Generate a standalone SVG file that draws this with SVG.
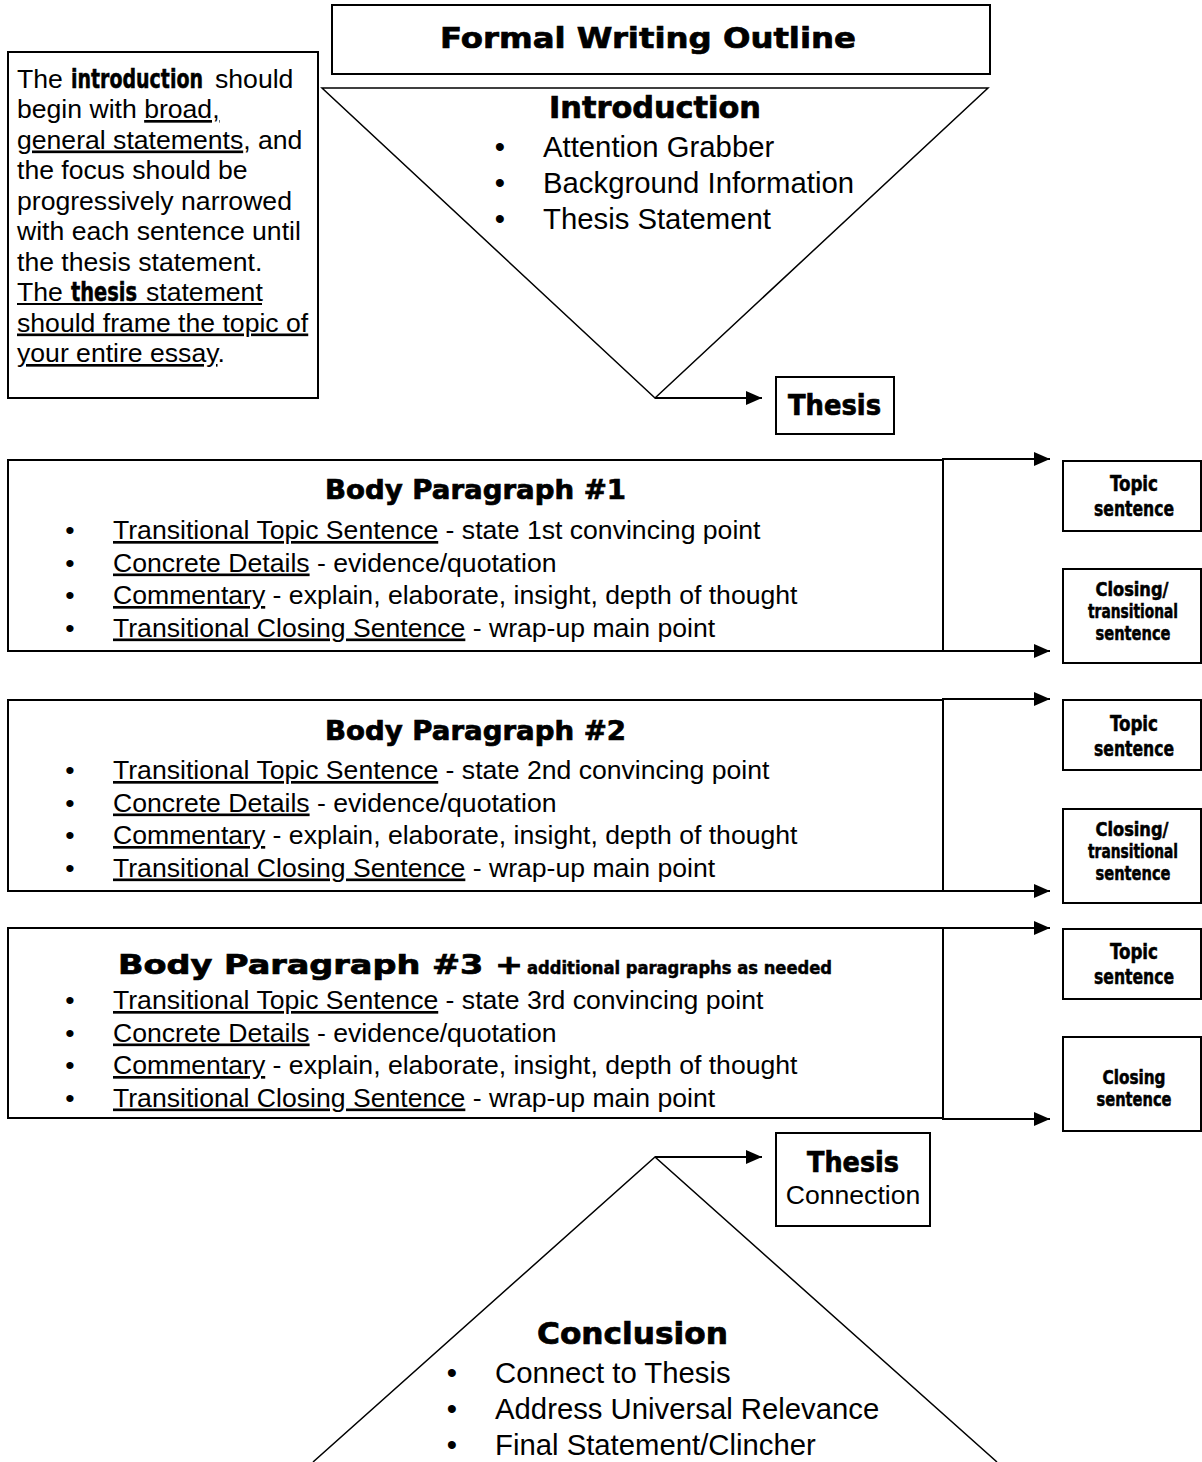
<svg xmlns="http://www.w3.org/2000/svg" width="1202" height="1462" viewBox="0 0 1202 1462">
<style>
.box{fill:#fff;stroke:#000;stroke-width:2}
.tri{fill:none;stroke:#000;stroke-width:1.5}
.ln{fill:none;stroke:#000;stroke-width:2}
.t{font-family:"Liberation Sans",Arial,sans-serif;font-size:26.6px;fill:#000}
.tb{font-family:"Liberation Sans",Arial,sans-serif;font-size:29.3px;fill:#000}
.h{font-family:"DejaVu Sans","Liberation Sans",sans-serif;font-weight:bold;fill:#000;stroke:#000;stroke-width:0.7px}
.c{font-family:"DejaVu Sans Condensed","DejaVu Sans","Liberation Sans",sans-serif;font-weight:bold;fill:#000;stroke:#000;stroke-width:0.5px}
.u{text-decoration:underline}
.mid{text-anchor:middle}
</style>
<defs>
<marker id="arr" markerUnits="userSpaceOnUse" markerWidth="16" markerHeight="14" refX="16" refY="7" orient="auto">
<path d="M0,0 L16,7 L0,14 z" fill="#000"/>
</marker>
</defs>
<rect width="1202" height="1462" fill="#fff"/>

<g id="title">
<rect class="box" x="332" y="5" width="658" height="69"/>
<text class="h" x="440" y="48" font-size="29" textLength="416" lengthAdjust="spacingAndGlyphs">Formal Writing Outline</text>
</g>

<g id="intro-note">
<rect class="box" x="8" y="52" width="310" height="346"/>
<text class="t" y="87.5"><tspan x="17">The</tspan><tspan x="71" class="c" font-size="27" textLength="132" lengthAdjust="spacingAndGlyphs">introduction</tspan><tspan x="215">should</tspan></text>
<text class="t" x="17" y="118">begin with <tspan class="u">broad,</tspan></text>
<text class="t" x="17" y="148.5"><tspan class="u">general statements</tspan>, and</text>
<text class="t" x="17" y="179">the focus should be</text>
<text class="t" x="17" y="209.5">progressively narrowed</text>
<text class="t" x="17" y="240">with each sentence until</text>
<text class="t" x="17" y="270.5">the thesis statement.</text>
<text class="t" y="301"><tspan x="17">The</tspan><tspan x="71" class="c" font-size="27" textLength="66" lengthAdjust="spacingAndGlyphs">thesis</tspan><tspan x="146">statement</tspan></text>
<line x1="17" y1="304" x2="262" y2="304" stroke="#000" stroke-width="1.8"/>
<text class="t u" x="17" y="331.5">should frame the topic of</text>
<text class="t" x="17" y="362"><tspan class="u">your entire essay</tspan>.</text>
</g>

<g id="introduction">
<polygon class="tri" points="322,88 988,88 655,398"/>
<text class="h" x="549" y="118" font-size="30" textLength="212" lengthAdjust="spacingAndGlyphs">Introduction</text>
<text class="tb mid" x="500" y="157">•</text><text class="tb" x="543" y="157">Attention Grabber</text>
<text class="tb mid" x="500" y="193">•</text><text class="tb" x="543" y="193">Background Information</text>
<text class="tb mid" x="500" y="229">•</text><text class="tb" x="543" y="229">Thesis Statement</text>
</g>

<g id="thesis">
<rect class="box" x="776" y="377" width="118" height="57"/>
<text class="h" x="788" y="415" font-size="28" textLength="93" lengthAdjust="spacingAndGlyphs">Thesis</text>
</g>

<g id="body1">
<rect class="box" x="8" y="460" width="935" height="191"/>
<text class="h" x="325" y="499" font-size="26" textLength="301" lengthAdjust="spacingAndGlyphs">Body Paragraph #1</text>
<text class="t mid" x="70" y="539">•</text><text class="t" x="113" y="539"><tspan class="u">Transitional Topic Sentence</tspan> - state 1st convincing point</text>
<text class="t mid" x="70" y="571.5">•</text><text class="t" x="113" y="571.5"><tspan class="u">Concrete Details</tspan> - evidence/quotation</text>
<text class="t mid" x="70" y="604">•</text><text class="t" x="113" y="604"><tspan class="u">Commentary</tspan> - explain, elaborate, insight, depth of thought</text>
<text class="t mid" x="70" y="636.5">•</text><text class="t" x="113" y="636.5"><tspan class="u">Transitional Closing Sentence</tspan> - wrap-up main point</text>
</g>

<g id="body2">
<rect class="box" x="8" y="700" width="935" height="191"/>
<text class="h" x="325" y="740" font-size="26" textLength="301" lengthAdjust="spacingAndGlyphs">Body Paragraph #2</text>
<text class="t mid" x="70" y="779">•</text><text class="t" x="113" y="779"><tspan class="u">Transitional Topic Sentence</tspan> - state 2nd convincing point</text>
<text class="t mid" x="70" y="811.5">•</text><text class="t" x="113" y="811.5"><tspan class="u">Concrete Details</tspan> - evidence/quotation</text>
<text class="t mid" x="70" y="844">•</text><text class="t" x="113" y="844"><tspan class="u">Commentary</tspan> - explain, elaborate, insight, depth of thought</text>
<text class="t mid" x="70" y="876.5">•</text><text class="t" x="113" y="876.5"><tspan class="u">Transitional Closing Sentence</tspan> - wrap-up main point</text>
</g>

<g id="body3">
<rect class="box" x="8" y="928" width="935" height="190"/>
<text class="h" x="118" y="974" font-size="26" textLength="405" lengthAdjust="spacingAndGlyphs">Body Paragraph #3 +</text>
<text class="h" x="527" y="974" font-size="18" textLength="305" lengthAdjust="spacingAndGlyphs" style="stroke-width:0.5px">additional paragraphs as needed</text>
<text class="t mid" x="70" y="1009">•</text><text class="t" x="113" y="1009"><tspan class="u">Transitional Topic Sentence</tspan> - state 3rd convincing point</text>
<text class="t mid" x="70" y="1041.5">•</text><text class="t" x="113" y="1041.5"><tspan class="u">Concrete Details</tspan> - evidence/quotation</text>
<text class="t mid" x="70" y="1074">•</text><text class="t" x="113" y="1074"><tspan class="u">Commentary</tspan> - explain, elaborate, insight, depth of thought</text>
<text class="t mid" x="70" y="1106.5">•</text><text class="t" x="113" y="1106.5"><tspan class="u">Transitional Closing Sentence</tspan> - wrap-up main point</text>
</g>

<g id="topic1">
<rect class="box" x="1063" y="461" width="138" height="70"/>
<text class="c mid" x="1134" y="491" font-size="21" textLength="48" lengthAdjust="spacingAndGlyphs">Topic</text>
<text class="c mid" x="1134" y="516" font-size="21" textLength="80" lengthAdjust="spacingAndGlyphs">sentence</text>
</g>
<g id="closing1">
<rect class="box" x="1063" y="569" width="138" height="94"/>
<text class="c mid" x="1132" y="596" font-size="19" textLength="73" lengthAdjust="spacingAndGlyphs">Closing/</text>
<text class="c mid" x="1133" y="618" font-size="19" textLength="90" lengthAdjust="spacingAndGlyphs">transitional</text>
<text class="c mid" x="1133" y="640" font-size="19" textLength="75" lengthAdjust="spacingAndGlyphs">sentence</text>
</g>
<g id="topic2">
<rect class="box" x="1063" y="700" width="138" height="70"/>
<text class="c mid" x="1134" y="731" font-size="21" textLength="48" lengthAdjust="spacingAndGlyphs">Topic</text>
<text class="c mid" x="1134" y="756" font-size="21" textLength="80" lengthAdjust="spacingAndGlyphs">sentence</text>
</g>
<g id="closing2">
<rect class="box" x="1063" y="809" width="138" height="94"/>
<text class="c mid" x="1132" y="836" font-size="19" textLength="73" lengthAdjust="spacingAndGlyphs">Closing/</text>
<text class="c mid" x="1133" y="858" font-size="19" textLength="90" lengthAdjust="spacingAndGlyphs">transitional</text>
<text class="c mid" x="1133" y="880" font-size="19" textLength="75" lengthAdjust="spacingAndGlyphs">sentence</text>
</g>
<g id="topic3">
<rect class="box" x="1063" y="929" width="138" height="70"/>
<text class="c mid" x="1134" y="959" font-size="21" textLength="48" lengthAdjust="spacingAndGlyphs">Topic</text>
<text class="c mid" x="1134" y="984" font-size="21" textLength="80" lengthAdjust="spacingAndGlyphs">sentence</text>
</g>
<g id="closing3">
<rect class="box" x="1063" y="1037" width="138" height="94"/>
<text class="c mid" x="1134" y="1084" font-size="19" textLength="63" lengthAdjust="spacingAndGlyphs">Closing</text>
<text class="c mid" x="1134" y="1106" font-size="19" textLength="75" lengthAdjust="spacingAndGlyphs">sentence</text>
</g>

<g id="thesis-connection">
<rect class="box" x="776" y="1133" width="154" height="93"/>
<text class="h mid" x="853" y="1172" font-size="28" textLength="92" lengthAdjust="spacingAndGlyphs">Thesis</text>
<text class="t mid" x="853" y="1204">Connection</text>
</g>

<g id="conclusion">
<polyline class="tri" points="313,1462 655,1157 997,1462"/>
<text class="h" x="537" y="1344" font-size="30" textLength="191" lengthAdjust="spacingAndGlyphs">Conclusion</text>
<text class="tb mid" x="452" y="1383">•</text><text class="tb" x="495" y="1383">Connect to Thesis</text>
<text class="tb mid" x="452" y="1419">•</text><text class="tb" x="495" y="1419">Address Universal Relevance</text>
<text class="tb mid" x="452" y="1455">•</text><text class="tb" x="495" y="1455">Final Statement/Clincher</text>
</g>

<g id="connectors">
<line class="ln" x1="655" y1="398" x2="762" y2="398" marker-end="url(#arr)"/>
<line class="ln" x1="655" y1="1157" x2="762" y2="1157" marker-end="url(#arr)"/>
<line class="ln" x1="942" y1="459" x2="1050" y2="459" marker-end="url(#arr)"/>
<line class="ln" x1="942" y1="651" x2="1050" y2="651" marker-end="url(#arr)"/>
<line class="ln" x1="942" y1="699" x2="1050" y2="699" marker-end="url(#arr)"/>
<line class="ln" x1="942" y1="891" x2="1050" y2="891" marker-end="url(#arr)"/>
<line class="ln" x1="942" y1="928" x2="1050" y2="928" marker-end="url(#arr)"/>
<line class="ln" x1="942" y1="1119" x2="1050" y2="1119" marker-end="url(#arr)"/>
</g>
</svg>
